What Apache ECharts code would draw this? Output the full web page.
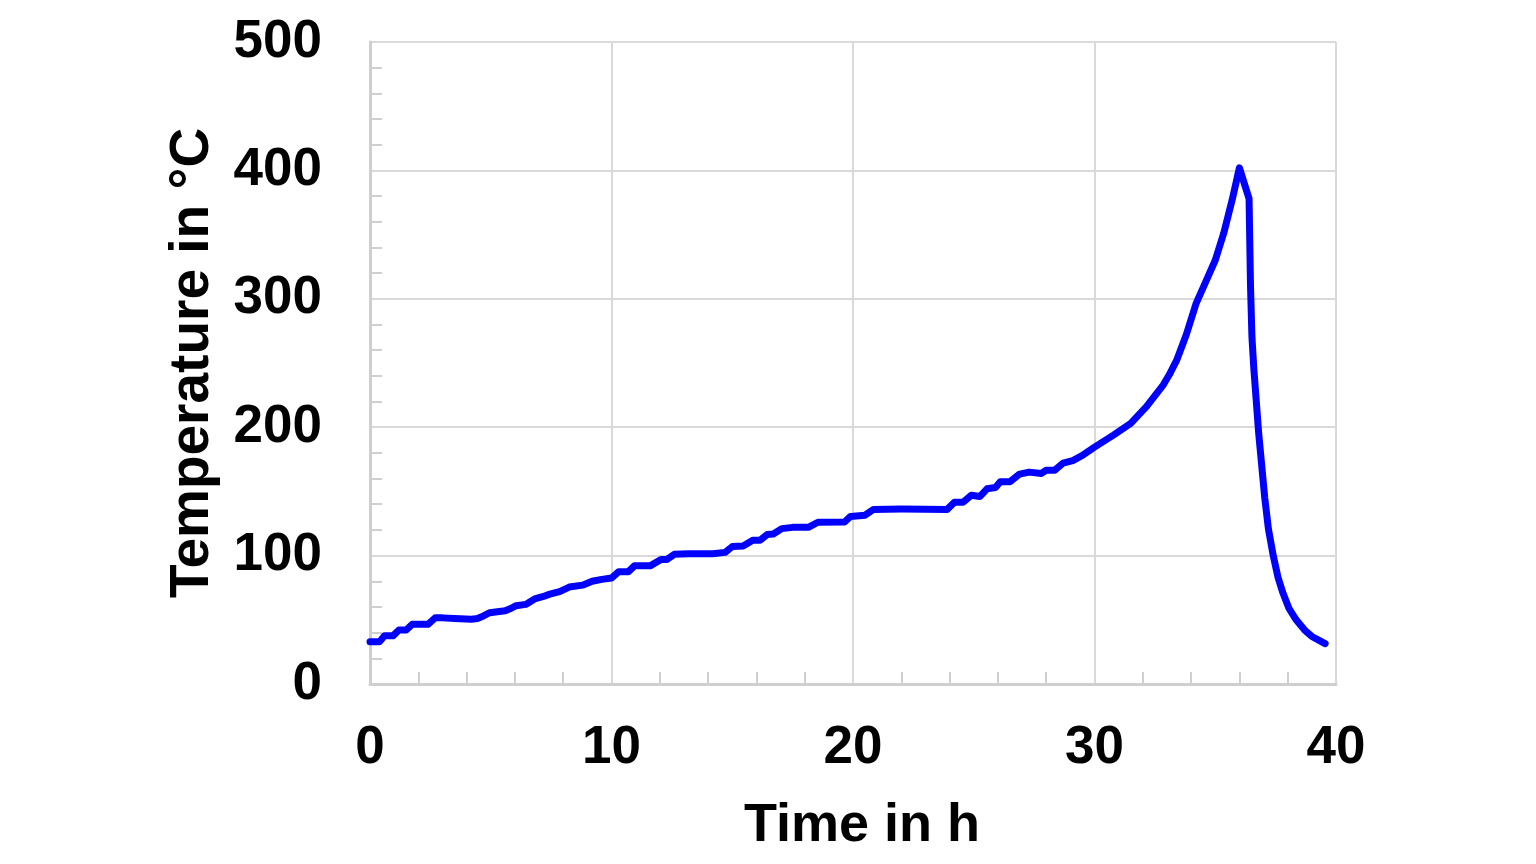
<!DOCTYPE html>
<html>
<head>
<meta charset="utf-8">
<script src="https://cdn.jsdelivr.net/npm/echarts@6/dist/echarts.min.js"></script>
<style>
html,body{margin:0;padding:0;background:#fff;}
#chart{width:1536px;height:864px;}
</style>
</head>
<body>
<div id="chart"></div>
<script>
const timeH = [0,0.4,0.6,0.95,1.2,1.5,1.75,2.4,2.7,3.0,3.5,4.2,4.45,4.7,4.95,5.6,5.85,6.05,6.45,6.85,7.15,7.45,7.85,8.25,8.8,9.2,9.6,10.0,10.3,10.7,10.95,11.6,12.05,12.3,12.6,13.2,14.2,14.7,15.0,15.45,15.85,16.15,16.45,16.7,17.05,17.5,18.15,18.55,19.65,19.9,20.5,20.85,22,23.9,24.2,24.55,24.9,25.25,25.55,25.9,26.1,26.5,26.9,27.3,27.8,28.0,28.35,28.7,29.1,29.5,30.0,30.8,31.5,32.15,32.85,33.1,33.4,33.8,34.2,34.6,35.0,35.35,35.7,36.0,36.4,36.46,36.52,36.6,36.8,37.05,37.2,37.4,37.6,37.8,38.05,38.35,38.7,39.0,39.3,39.55];
const tempC = [33,33,37.5,37.5,42,42,46.5,46.5,51.5,51.5,51,50.5,51,53,55.5,57,59,61,62,66.5,68,70,72,75.5,77,80,81.5,82.5,87.5,87.5,92,92,97,97,101,101.5,101.5,102.5,107,107.5,112,112,116.5,116.8,121,122,122,126,126.2,130.5,131.5,136,136.2,136,141.5,141.5,147,146,152,153,157.5,157.5,163.5,165,164,166.5,166.5,172,174,178,184.5,194,203,216,233,241,252,272,296,313,330,351,377,402,378,310,270,245,195,145,121,100,83,71,59,50,42,37,34,31.5];
const xTicks = [0,10,20,30,40];
const yTicks = [0,100,200,300,400,500];

const data = timeH.map((t,i)=>[t,tempC[i]]);
const font = '"Liberation Sans", Arial, sans-serif';
const chart = echarts.init(document.getElementById('chart'));
chart.setOption({
  animation:false,
  backgroundColor:'#fff',
  grid:{left:370,right:200,top:42,bottom:180,containLabel:false},
  xAxis:{
    type:'value',min:xTicks[0],max:xTicks[xTicks.length-1],interval:10,
    name:'Time in h',nameLocation:'middle',nameGap:115,
    nameTextStyle:{fontFamily:font,fontWeight:'bold',fontSize:54,color:'#000',padding:[0,0,0,18]},
    axisLine:{lineStyle:{color:'#cfcfcf',width:3}},
    axisTick:{show:false},
    minorTick:{show:true,splitNumber:5,length:-12,lineStyle:{color:'#cfcfcf',width:2}},
    splitLine:{show:true,lineStyle:{color:'#d9d9d9',width:2}},
    axisLabel:{margin:38,fontFamily:font,fontWeight:'bold',fontSize:53,color:'#000'}
  },
  yAxis:{
    type:'value',min:yTicks[0],max:yTicks[yTicks.length-1],interval:100,
    name:'Temperature in °C',nameLocation:'middle',nameGap:150,nameRotate:90,
    nameTextStyle:{fontFamily:font,fontWeight:'bold',fontSize:55,color:'#000'},
    axisLine:{show:true,lineStyle:{color:'#cfcfcf',width:3}},
    axisTick:{show:false},
    minorTick:{show:true,splitNumber:5,length:-12,lineStyle:{color:'#cfcfcf',width:2}},
    splitLine:{show:true,lineStyle:{color:'#d9d9d9',width:2}},
    axisLabel:{margin:48,fontFamily:font,fontWeight:'bold',fontSize:53,color:'#000'}
  },
  series:[{
    type:'line',data:data,showSymbol:false,smooth:false,
    lineStyle:{color:'#0000ff',width:7,join:'round',cap:'round'}
  }]
});
</script>
</body>
</html>
